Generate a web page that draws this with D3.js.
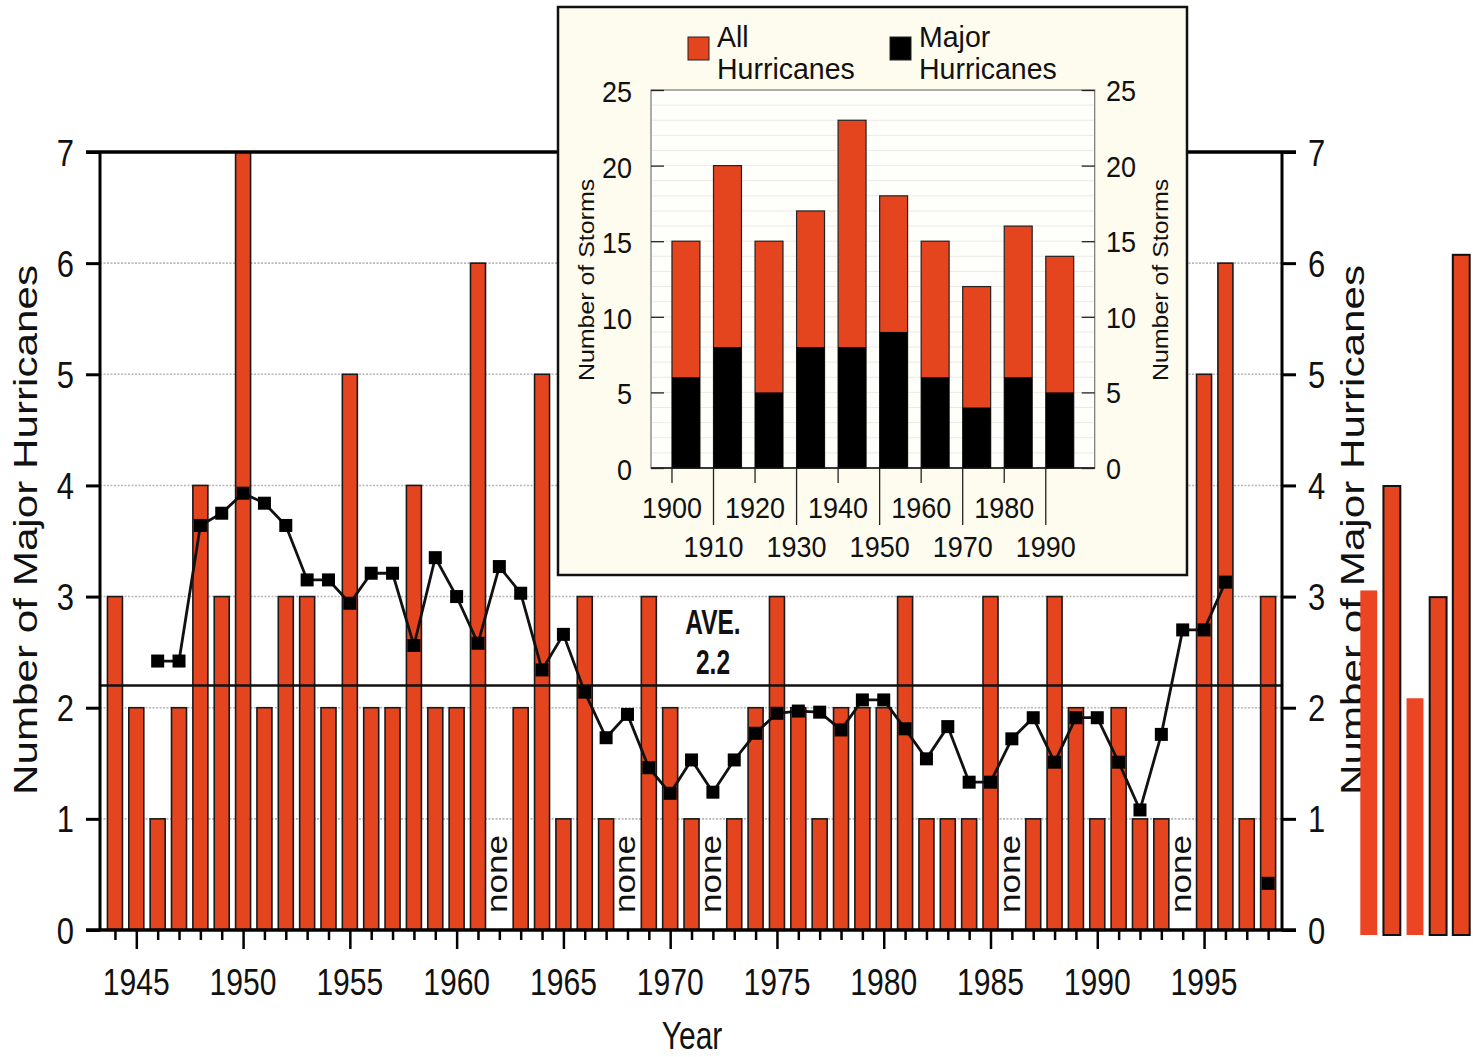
<!DOCTYPE html>
<html>
<head>
<meta charset="utf-8">
<script src="https://cdn.jsdelivr.net/npm/d3@7"></script>
<style>
  body { margin: 0; background: #fff; }
  svg { display: block; }
  text { font-family: "Liberation Sans", Arial, Helvetica, sans-serif; fill: #111; }
</style>
</head>
<body>
<svg id="chart" width="1473" height="1057"></svg>
<script>
// ---- Annual Atlantic major hurricanes, 1944-1998 ----
const years = [1944,1945,1946,1947,1948,1949,1950,1951,1952,1953,1954,1955,1956,1957,1958,1959,
  1960,1961,1962,1963,1964,1965,1966,1967,1968,1969,1970,1971,1972,1973,1974,1975,1976,1977,
  1978,1979,1980,1981,1982,1983,1984,1985,1986,1987,1988,1989,1990,1991,1992,1993,1994,1995,
  1996,1997,1998];
const majorCounts = [3,2,1,2,4,3,7,2,3,3,2,5,2,2,4,2,2,6,0,2,5,1,3,1,0,3,2,1,0,1,2,3,2,1,2,2,2,
  3,1,1,1,3,0,1,3,2,1,2,1,1,0,5,6,1,3];

// Smoothed series (null = no value plotted)
const smoothYears = [1946,1947,1948,1949,1950,1951,1952,1953,1954,1955,1956,1957,1958,1959,1960,
  1961,1962,1963,1964,1965,1966,1967,1968,1969,1970,1971,1972,1973,1974,1975,1976,1977,1978,
  1979,1980,1981,1982,1983,1984,1985,1986,1987,1988,1989,1990,1991,1992,1993,1994,1995,1996,
  1997,1998];
const smoothValues = [2.42,2.42,3.64,3.75,3.93,3.84,3.64,3.15,3.15,2.94,3.21,3.21,2.56,3.35,3.00,
  2.58,3.27,3.03,2.34,2.66,2.14,1.73,1.94,1.46,1.23,1.53,1.24,1.53,1.77,1.95,1.97,1.96,1.80,
  2.07,2.07,1.81,1.54,1.83,1.33,1.33,1.72,1.91,1.51,1.91,1.91,1.51,1.08,1.76,2.70,2.70,3.13,
  null,0.42];

const averageValue = 2.2;
const yTicks = [0,1,2,3,4,5,6,7];
const gridValues = [1,2,3,4,5,6];
const majorYearTicks = [1945,1950,1955,1960,1965,1970,1975,1980,1985,1990,1995];

// ---- Decadal totals, 1900-1990 ----
const decades = ["1900","1910","1920","1930","1940","1950","1960","1970","1980","1990"];
const decadeAll = [15,20,15,17,23,18,15,12,16,14];
const decadeMajor = [6,8,5,8,8,9,6,4,6,5];
const insetTicks = [0,5,10,15,20,25];
const insetLowerLabels = ["1910","1930","1950","1970","1990"];
const legendItems = ["All\nHurricanes", "Major\nHurricanes"];

// ---- Small extra bars at the right margin ----
const sideBarValues = [3.1, 4.04, 2.13, 3.04, 6.12];
const sideBarOutlined = [false, true, false, true, true];

const RED = "#e4451f";
const svg = d3.select("#chart");

// text helper: vertical stretch k, optional rotation
function label(g, x, y, str, o) {
  const t = g.append("text")
    .attr("transform", `translate(${x},${y}) scale(1,${o.k || 1})${o.rot ? ` rotate(${o.rot})` : ""}`)
    .attr("font-size", o.size)
    .attr("text-anchor", o.anchor || "middle")
    .text(str);
  if (o.weight) t.attr("font-weight", o.weight);
  return t;
}

// ================= main chart =================
const x = d3.scaleLinear().domain([1943.3, 1998.65]).range([100, 1282]);
const y = d3.scaleLinear().domain([0, 7]).range([930, 152]);
const barW = 15;
const main = svg.append("g");

// dotted grid
main.append("g").selectAll("line").data(gridValues).join("line")
  .attr("x1", 100).attr("x2", 1282)
  .attr("y1", d => y(d)).attr("y2", d => y(d))
  .attr("stroke", "#b8b8b8").attr("stroke-width", 1.6).attr("stroke-dasharray", "2,1.5");

// bars
const barData = years.map((yr, i) => ({ yr, v: majorCounts[i] }));
main.append("g").selectAll("rect").data(barData.filter(d => d.v > 0)).join("rect")
  .attr("x", d => x(d.yr) - barW / 2).attr("width", barW)
  .attr("y", d => y(d.v)).attr("height", d => y(0) - y(d.v))
  .attr("fill", RED).attr("stroke", "#1a1a1a").attr("stroke-width", 1.6);

// "none" labels for zero years
barData.filter(d => d.v === 0).forEach(d => {
  label(main, x(d.yr) + 8, y(0) - 17, "none", { size: 30, k: 1.17, rot: -90, anchor: "start" });
});

// average line and its two-line label
main.append("line").attr("x1", 100).attr("x2", 1282)
  .attr("y1", y(averageValue)).attr("y2", y(averageValue))
  .attr("stroke", "#111").attr("stroke-width", 2.6);
label(main, 713, 634, "AVE.", { size: 24.5, k: 1.42, weight: "bold" });
label(main, 713, 674, String(averageValue), { size: 24.5, k: 1.42, weight: "bold" });

// smoothed line with square markers
const smooth = smoothYears.map((yr, i) => ({ yr, v: smoothValues[i] }));
main.append("path").datum(smooth)
  .attr("fill", "none").attr("stroke", "#111").attr("stroke-width", 2.8)
  .attr("d", d3.line().defined(d => d.v !== null).x(d => x(d.yr)).y(d => y(d.v)));
main.append("g").selectAll("rect").data(smooth.filter(d => d.v !== null)).join("rect")
  .attr("x", d => x(d.yr) - 6.5).attr("y", d => y(d.v) - 6.5)
  .attr("width", 13).attr("height", 13).attr("fill", "#000");

// frame: left/right axes, top & bottom lines
main.append("line").attr("x1", 100).attr("x2", 100).attr("y1", y(7)).attr("y2", y(0))
  .attr("stroke", "#000").attr("stroke-width", 3);
main.append("line").attr("x1", 1282).attr("x2", 1282).attr("y1", y(7)).attr("y2", y(0))
  .attr("stroke", "#000").attr("stroke-width", 3);
main.append("line").attr("x1", 86).attr("x2", 1296).attr("y1", y(7)).attr("y2", y(7))
  .attr("stroke", "#000").attr("stroke-width", 3.5);
main.append("line").attr("x1", 86).attr("x2", 1296).attr("y1", y(0)).attr("y2", y(0))
  .attr("stroke", "#000").attr("stroke-width", 3.5);

// y axes
const leftAxis = main.append("g").attr("transform", "translate(100,0)")
  .call(d3.axisLeft(y).tickValues(yTicks).tickSize(14).tickFormat(""));
const rightAxis = main.append("g").attr("transform", "translate(1282,0)")
  .call(d3.axisRight(y).tickValues(yTicks).tickSize(14).tickFormat(""));
[leftAxis, rightAxis].forEach(a => {
  a.select(".domain").remove();
  a.selectAll(".tick line").attr("stroke", "#000").attr("stroke-width", 3);
});
yTicks.forEach(v => {
  label(main, 74, y(v) + 13.5, String(v), { size: 31, k: 1.22, anchor: "end" });
  label(main, 1308, y(v) + 13.5, String(v), { size: 31, k: 1.22, anchor: "start" });
});

// x axis ticks (minor every year, longer every 5 years)
const minorAx = main.append("g").attr("transform", `translate(0,${y(0)})`)
  .call(d3.axisBottom(x).tickValues(years.filter(d => !majorYearTicks.includes(d))).tickSize(10).tickFormat(""));
const majorAx = main.append("g").attr("transform", `translate(0,${y(0)})`)
  .call(d3.axisBottom(x).tickValues(majorYearTicks).tickSize(19).tickFormat(""));
[minorAx, majorAx].forEach(a => {
  a.select(".domain").remove();
  a.selectAll(".tick line").attr("stroke", "#000").attr("stroke-width", 2.5);
});
majorYearTicks.forEach(yr => label(main, x(yr), 995, String(yr), { size: 30.1, k: 1.25 }));

// axis titles
label(main, 692, 1049, "Year", { size: 30, k: 1.3 });
label(main, 37, 530, "Number of Major Hurricanes", { size: 33.5, k: 1.26, rot: -90 });
label(main, 1364, 530, "Number of Major Hurricanes", { size: 33.5, k: 1.26, rot: -90 });

// ================= inset: hurricanes per decade =================
const inset = svg.append("g");
inset.append("rect").attr("x", 558).attr("y", 7).attr("width", 629).attr("height", 568)
  .attr("fill", "#fdfcef").attr("stroke", "#111").attr("stroke-width", 2.5);

const ix = d3.scaleBand().domain(decades).range([651, 1094.7]).paddingInner(0.327).paddingOuter(0.505);
const iy = d3.scaleLinear().domain([0, 25]).range([468, 90]);

inset.append("rect").attr("x", 651).attr("y", iy(25)).attr("width", 1094.7 - 651).attr("height", iy(0) - iy(25))
  .attr("fill", "#fefefb").attr("stroke", "#777").attr("stroke-width", 1.2);
inset.append("g").selectAll("line").data(d3.range(1, 25)).join("line")
  .attr("x1", 652).attr("x2", 1094).attr("y1", d => iy(d)).attr("y2", d => iy(d))
  .attr("stroke", "#ecebe2").attr("stroke-width", 1);

const dec = decades.map((d, i) => ({ d, all: decadeAll[i], major: decadeMajor[i] }));
inset.append("g").selectAll("rect").data(dec).join("rect")
  .attr("x", d => ix(d.d)).attr("width", ix.bandwidth())
  .attr("y", d => iy(d.all)).attr("height", d => iy(0) - iy(d.all))
  .attr("fill", RED).attr("stroke", "#222").attr("stroke-width", 1.2);
inset.append("g").selectAll("rect").data(dec).join("rect")
  .attr("x", d => ix(d.d)).attr("width", ix.bandwidth())
  .attr("y", d => iy(d.major)).attr("height", d => iy(0) - iy(d.major))
  .attr("fill", "#000");

// inset axes
inset.append("line").attr("x1", 651).attr("x2", 1094.7).attr("y1", iy(0)).attr("y2", iy(0))
  .attr("stroke", "#111").attr("stroke-width", 1.6);
const iL = inset.append("g").attr("transform", "translate(651,0)")
  .call(d3.axisRight(iy).tickValues(insetTicks).tickSize(13).tickFormat(""));
const iR = inset.append("g").attr("transform", "translate(1094.7,0)")
  .call(d3.axisLeft(iy).tickValues(insetTicks).tickSize(13).tickFormat(""));
[iL, iR].forEach(a => {
  a.select(".domain").remove();
  a.selectAll(".tick line").attr("stroke", "#222").attr("stroke-width", 1.3);
});
insetTicks.forEach(v => {
  label(inset, 632, iy(v) + 12, String(v), { size: 27, k: 1.08, anchor: "end" });
  label(inset, 1106, iy(v) + 11, String(v), { size: 27, k: 1.08, anchor: "start" });
});
decades.forEach(d => {
  const lower = insetLowerLabels.includes(d);
  inset.append("line").attr("x1", ix(d)).attr("x2", ix(d))
    .attr("y1", iy(0)).attr("y2", lower ? 525 : 483)
    .attr("stroke", "#222").attr("stroke-width", 1.3);
  label(inset, ix(d), lower ? 557 : 518, d, { size: 27, k: 1.12 });
});
label(inset, 594, 280, "Number of Storms", { size: 21.5, k: 1.16, rot: -90 });
label(inset, 1168, 280, "Number of Storms", { size: 21.5, k: 1.16, rot: -90 });

// legend
const legendX = [688, 890];
const legendFill = [RED, "#000"];
legendItems.forEach((txt, i) => {
  inset.append("rect").attr("x", legendX[i]).attr("y", 37).attr("width", 21).attr("height", 23)
    .attr("fill", legendFill[i]).attr("stroke", "#222").attr("stroke-width", 1);
  const lines = txt.split("\n");
  label(inset, legendX[i] + 29, 47, lines[0], { size: 28.5, k: 1.05, anchor: "start" });
  label(inset, legendX[i] + 29, 79, lines[1], { size: 28.5, k: 1.05, anchor: "start" });
});

// ================= extra bars at the right margin =================
const sx = d3.scaleBand().domain(d3.range(sideBarValues.length)).range([1358, 1472]).paddingInner(0.27).paddingOuter(0.1);
const sy = d3.scaleLinear().domain([0, 7]).range([935, 157]);
svg.append("g").selectAll("rect").data(sideBarValues.map((v, i) => ({ i, v, o: sideBarOutlined[i] }))).join("rect")
  .attr("x", d => sx(d.i)).attr("width", sx.bandwidth())
  .attr("y", d => sy(d.v)).attr("height", d => sy(0) - sy(d.v))
  .attr("fill", d => d.o ? "#e4451f" : "#ec4523")
  .attr("stroke", d => d.o ? "#111" : "none").attr("stroke-width", 2);
</script>
</body>
</html>
